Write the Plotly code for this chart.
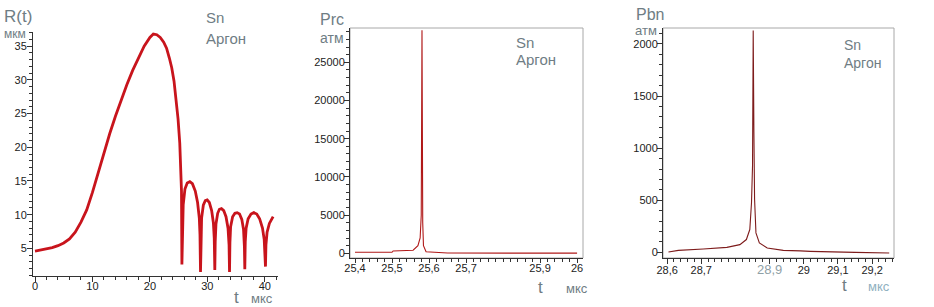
import plotly.graph_objects as go

# ---------------- data ----------------
# Left panel: bubble radius R(t), мкм
t_R = [0, 1, 2, 3, 4, 5, 6, 7, 8, 9, 10, 11, 12, 13, 14, 15, 16, 17, 18, 19, 20, 20.6,
       21.2, 21.8, 22.4, 22.9, 23.4, 23.8, 24.2, 24.6, 24.9, 25.2, 25.4, 25.5, 25.57,
       25.65, 25.8, 26.1, 26.5, 26.95, 27.4, 27.9, 28.3, 28.6, 28.72, 28.81,
       28.88, 29.0, 29.3, 29.65, 29.97, 30.35, 30.75, 31.05, 31.2, 31.3,
       31.37, 31.5, 31.8, 32.1, 32.46, 32.85, 33.25, 33.6, 33.78, 33.86,
       33.93, 34.05, 34.4, 34.8, 35.19, 35.6, 36.0, 36.3, 36.45, 36.52,
       36.6, 36.75, 37.1, 37.6, 38.09, 38.6, 39.1, 39.6, 39.9, 40.05, 40.12,
       40.2, 40.4, 40.8, 41.45]
R_vals = [4.6, 4.75, 4.9, 5.1, 5.4, 5.8, 6.4, 7.4, 8.9, 10.7, 13.3, 16.3, 19.2, 22.0, 24.6, 27.0, 29.3, 31.4, 33.3, 35.0, 36.3, 36.8,
          36.7, 36.3, 35.6, 34.7, 33.2, 31.8, 29.8, 27.0, 24.2, 20.6, 17.0, 13.5, 2.6,
          8.0, 11.5, 13.8, 14.7, 14.9, 14.6, 13.5, 11.8, 9.5, 7.0, 1.5,
          6.5, 9.5, 11.4, 12.1, 12.2, 11.8, 10.6, 8.8, 6.5, 1.8,
          6.0, 8.6, 10.2, 10.8, 10.9, 10.6, 9.7, 8.0, 5.5, 1.5,
          5.8, 8.2, 9.7, 10.2, 10.3, 10.1, 9.3, 7.8, 5.3, 1.9,
          6.0, 8.0, 9.4, 10.1, 10.3, 10.1, 9.4, 8.0, 6.3, 4.0, 2.3,
          5.5, 7.4, 8.7, 9.7]

# Middle panel: Prc, атм
t_Prc = [25.40, 25.50, 25.503, 25.557, 25.570, 25.576, 25.579, 25.581, 25.583, 25.585,
         25.592, 25.646, 25.650, 26.00]
Prc_vals = [130, 130, 300, 400, 1000, 2000, 5000, 29200, 4000, 1000,
            200, 100, 30, 20]

# Right panel: Pbn, атм
t_Pbn = [28.604, 28.633, 28.706, 28.775, 28.813, 28.832, 28.842, 28.847, 28.850, 28.852,
         28.854, 28.856, 28.860, 28.870, 28.893, 28.940, 28.990, 29.019, 29.150, 29.250]
Pbn_vals = [3, 19, 32, 48, 74, 123, 219, 477, 832, 2129,
            1155, 510, 187, 90, 42, 19, 14, 10, 0, -6]

# tick labels
R_xticks = [0, 10, 20, 30, 40]
R_yticks = [5, 10, 15, 20, 25, 30, 35]
Prc_xticks = [25.4, 25.5, 25.6, 25.7, 25.9, 26.0]
Prc_xlabels = ["25,4", "25,5", "25,6", "25,7", "25,9", "26"]
Prc_yticks = [0, 5000, 10000, 15000, 20000, 25000]
Prc_ylabels = ["0", "5000", "10000", "15000", "20000", "25000"]
Pbn_xticks = [28.6, 28.7, 28.9, 29.0, 29.1, 29.2]
Pbn_xlabels = ["28,6", "28,7",
               "<span style='color:#8fa0a6;font-size:13px'>28,9</span>",
               "29", "29,1", "29,2"]
Pbn_yticks = [0, 500, 1000, 1500, 2000]
Pbn_ylabels = ["0", "500", "1000", "1500", "2000"]

# ---------------- figure ----------------
W, H = 934, 307
FONT = "Liberation Sans, Arial, sans-serif"
TXT = "#6f7d84"


def px_x(p):
    return p / W


def px_y(p):
    return 1 - p / H


fig = go.Figure()
fig.add_trace(go.Scatter(x=t_R, y=R_vals, mode="lines",
                         line=dict(color="#c8141c", width=2.8),
                         xaxis="x", yaxis="y", showlegend=False))
fig.add_trace(go.Scatter(x=t_Prc, y=Prc_vals, mode="lines",
                         line=dict(color="#b01818", width=1.1),
                         xaxis="x2", yaxis="y2", showlegend=False))
fig.add_trace(go.Scatter(x=t_Pbn, y=Pbn_vals, mode="lines",
                         line=dict(color="#7e1c1c", width=1.1),
                         xaxis="x3", yaxis="y3", showlegend=False))

tickfont = dict(family=FONT, size=11, color="#222")
common = dict(showgrid=False, zeroline=False, showline=True, linecolor="#333",
              linewidth=1, ticks="outside", tickcolor="#333",
              tickfont=tickfont, automargin=False, tickmode="array")
minor_common = dict(tickmode="linear", ticks="outside", ticklen=3, tickcolor="#333")

fig.update_layout(
    template="none",
    width=W, height=H,
    margin=dict(l=0, r=0, t=0, b=0, autoexpand=False),
    paper_bgcolor="white", plot_bgcolor="white",
    xaxis=dict(domain=[px_x(33), px_x(278)], range=[-0.35, 42.3], anchor="y",
               tickvals=R_xticks, ticklen=5, ticklabelstandoff=-5,
               minor=dict(tick0=0, dtick=2, **minor_common),
               **common),
    yaxis=dict(domain=[px_y(276), px_y(32)], range=[0.9, 37.1], anchor="x",
               tickvals=R_yticks, ticklen=5, ticklabelstandoff=-2,
               minor=dict(tick0=0, dtick=1, **minor_common),
               **common),
    xaxis2=dict(domain=[px_x(350), px_x(583)], range=[25.3865, 26.016], anchor="y2",
                tickvals=Prc_xticks, ticktext=Prc_xlabels, ticklen=4, ticklabelstandoff=-4,
                minor=dict(tick0=25.4, dtick=0.02, **minor_common),
                **common),
    yaxis2=dict(domain=[px_y(258), px_y(28)], range=[-615, 29490], anchor="x2",
                tickvals=Prc_yticks, ticktext=Prc_ylabels, ticklen=5, ticklabelstandoff=-3,
                minor=dict(tick0=0, dtick=1000, **minor_common),
                **common),
    xaxis3=dict(domain=[px_x(663), px_x(894)], range=[28.588, 29.264], anchor="y3",
                tickvals=Pbn_xticks, ticktext=Pbn_xlabels, ticklen=5, ticklabelstandoff=-3,
                minor=dict(tick0=28.6, dtick=0.02, **minor_common),
                **common),
    yaxis3=dict(domain=[px_y(258), px_y(28)], range=[-54, 2153], anchor="x3",
                tickvals=Pbn_yticks, ticktext=Pbn_ylabels, ticklen=5, ticklabelstandoff=-3,
                minor=dict(tick0=0, dtick=100, **minor_common),
                **common),
)

# frames (top/right) of the middle and right panels
for ax in ("2", "3"):
    fig.add_shape(type="rect", xref=f"x{ax} domain", yref=f"y{ax} domain",
                  x0=0, x1=1, y0=0, y1=1, line=dict(color="#a8a8a8", width=1),
                  layer="below")


def label(text, x, y, size, color=TXT, xanchor="left"):
    fig.add_annotation(text=text, x=px_x(x), y=px_y(y), xref="paper", yref="paper",
                       xanchor=xanchor, yanchor="middle", showarrow=False,
                       font=dict(family=FONT, size=size, color=color))


# left panel texts
label("R(t)", 2, 16, 17)
label("мкм", 2, 34, 12)
label("Sn", 204, 17, 15)
label("Аргон", 204, 38, 15)
label("t", 237, 297, 17, xanchor="center")
label("мкс", 249, 298, 13)
# middle panel texts
label("Prc", 318, 19, 16)
label("атм", 318, 38, 14)
label("Sn", 514, 42, 15)
label("Аргон", 514, 60, 15)
label("t", 540, 287, 17, xanchor="center")
label("мкс", 564, 288, 13)
# right panel texts
label("Pbn", 634, 14, 16)
label("атм", 633, 30, 13)
label("Sn", 842, 45, 14)
label("Аргон", 842, 63, 14)
label("t", 844, 285, 17, xanchor="center")
label("мкс", 866, 286, 13, color="#8fb0c0")

fig.write_html("out.html",
               config={"displayModeBar": False},
               post_script="document.body.style.margin='0px';"
                           "document.body.style.overflow='hidden';")
